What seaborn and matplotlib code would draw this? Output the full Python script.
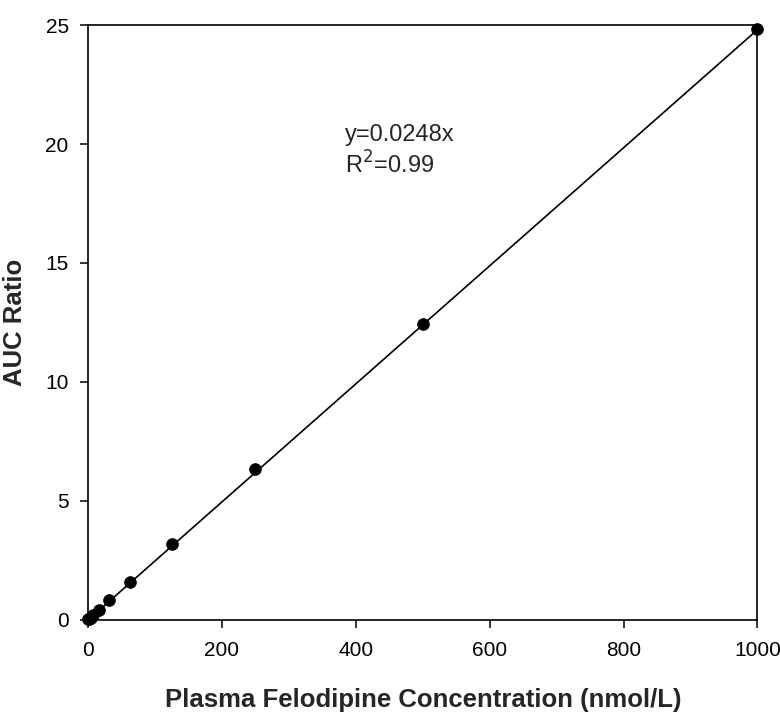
import numpy as np
import matplotlib
matplotlib.use("Agg")
import matplotlib.pyplot as plt
import seaborn as sns

# concentracion (nmol/L) y razon de AUC
conc = [0, 1.95, 3.9, 7.8, 15.6, 31.25, 62.5, 125, 250, 500, 1000]
auc_ratio = [0.02, 0.05, 0.1, 0.2, 0.42, 0.82, 1.6, 3.2, 6.35, 12.45, 24.85]
pendiente = 0.0248

sns.set_style("ticks")
plt.rcParams['font.family'] = ['Liberation Sans', 'DejaVu Sans']

fig = plt.figure(figsize=(7.8, 7.15), dpi=100)
ax = fig.add_axes([0.113, 0.133, 0.858, 0.832])

x_fit = np.array([0, 1000])
sns.lineplot(x=x_fit, y=pendiente * x_fit, color='black', linewidth=1.2, ax=ax)
sns.scatterplot(x=conc, y=auc_ratio, color='black', s=70, edgecolor='black', zorder=3, ax=ax, clip_on=False)

ax.set_xlim(0, 1000)
ax.set_ylim(0, 25)
ax.set_xticks([0, 200, 400, 600, 800, 1000])
ax.set_yticks([0, 5, 10, 15, 20, 25])
ax.tick_params(labelsize=15, length=6, width=1.1, color='black', labelcolor='black')
ax.tick_params(axis='x', pad=9)
ax.tick_params(axis='y', pad=8)
for s in ax.spines.values():
    s.set_linewidth(1.2)
    s.set_color('black')

ax.set_xlabel('Plasma Felodipine Concentration (nmol/L)', fontsize=18.5, fontweight='bold', labelpad=20)
ax.set_ylabel('AUC Ratio', fontsize=18.5, fontweight='bold', labelpad=13)

ax.text(384, 20.85, 'y=0.0248x\nR$^2$=0.99', fontsize=17, linespacing=1.25, va='top')

fig.savefig('out.png', dpi=100)
